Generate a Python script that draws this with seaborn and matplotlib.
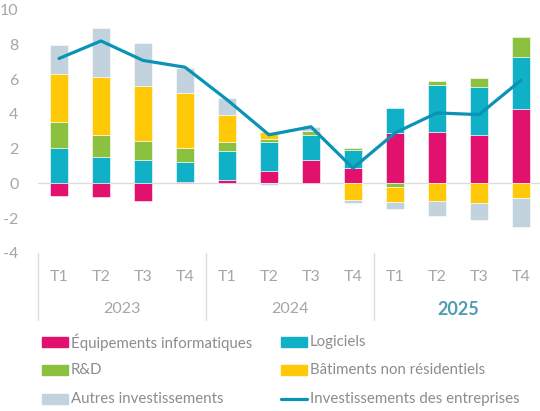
import numpy as np
import pandas as pd
import matplotlib
matplotlib.use("Agg")
import matplotlib.pyplot as plt
from matplotlib.patches import Rectangle
from matplotlib.lines import Line2D
import seaborn as sns

# Contributions à la croissance de l'investissement des entreprises (points)
trimestres = ["T1", "T2", "T3", "T4"] * 3
annees = ["2023", "2024", "2025"]

equipements = [-0.73, -0.77, -1.00, 0.07, 0.17, 0.73, 1.33, 0.87, 2.87, 2.97, 2.79, 4.25]
logiciels = [2.02, 1.50, 1.36, 1.18, 1.66, 1.62, 1.42, 1.07, 1.48, 2.67, 2.74, 3.01]
r_et_d = [1.51, 1.29, 1.09, 0.77, 0.52, 0.17, 0.27, 0.10, -0.19, 0.27, 0.52, 1.16]
batiments = [2.73, 3.30, 3.13, 3.16, 1.56, 0.43, 0.00, -0.97, -0.87, -1.04, -1.16, -0.87]
autres = [1.68, 2.87, 2.47, 1.48, 0.98, -0.12, 0.23, -0.15, -0.44, -0.83, -0.96, -1.64]
total = [7.18, 8.19, 7.07, 6.68, 4.81, 2.79, 3.25, 0.87, 2.90, 4.05, 3.95, 5.93]

series = [
    ("Équipements informatiques", equipements, "#E2116E"),
    ("Logiciels", logiciels, "#10B1C6"),
    ("R&D", r_et_d, "#8BC13F"),
    ("Bâtiments non résidentiels", batiments, "#FFC908"),
    ("Autres investissements", autres, "#C3D3DD"),
]
couleur_ligne = "#0A93B7"
gris_texte = "#8C8C8C"
gris_ligne = "#DCDCDC"

sns.set_theme(style="white")
plt.rcParams["font.family"] = ["Lato", "DejaVu Sans"]

W, H = 540, 411
fig = plt.figure(figsize=(W / 100, H / 100), dpi=100)
ax_left, ax_right, ax_top, ax_bottom = 38, 542, 9.5, 252.8
ax = fig.add_axes([ax_left / W, 1 - ax_bottom / H,
                   (ax_right - ax_left) / W, (ax_bottom - ax_top) / H])

x = np.arange(len(trimestres))
pos_base = np.zeros(len(x))
neg_base = np.zeros(len(x))
for nom, vals, couleur in series:
    v = np.array(vals)
    bottom = np.where(v >= 0, pos_base, neg_base)
    df = pd.DataFrame({"x": x, "v": v})
    sns.barplot(data=df, x="x", y="v", bottom=bottom, color=couleur,
                saturation=1, width=0.41, edgecolor="white", linewidth=0.4,
                ax=ax, zorder=2)
    pos_base = pos_base + np.where(v >= 0, v, 0)
    neg_base = neg_base + np.where(v < 0, v, 0)

sns.lineplot(x=x, y=total, color=couleur_ligne, linewidth=2.3, ax=ax,
             zorder=3)

ax.axhline(0, color=gris_ligne, lw=1, zorder=1)
ax.set_xlim(-0.5, 11.5)
ax.set_ylim(-4, 10)
ax.set_yticks(np.arange(-4, 11, 2))
ax.set_yticklabels([str(t) for t in range(-4, 11, 2)])
ax.tick_params(axis="y", length=0, pad=14, labelsize=11.5, labelcolor="#A6A6A6")
ax.set_xticks([])
ax.set_xlabel("")
ax.set_ylabel("")
for s in ax.spines.values():
    s.set_visible(False)

# axe des catégories à deux niveaux
tr = ax.get_xaxis_transform()
h_ax = ax_bottom - ax_top
y_trim = -(277 - ax_bottom) / h_ax
y_annee = -(309 - ax_bottom) / h_ax
y_sep = -(320 - ax_bottom) / h_ax
for i, t in enumerate(trimestres):
    ax.text(i, y_trim, t, transform=tr, ha="center", va="center",
            fontsize=11.5, color="#A6A6A6")
for k, an in enumerate(annees):
    xc = 4 * k + 1.5
    if an == "2025":
        ax.text(xc, y_annee, an, transform=tr, ha="center", va="center",
                fontsize=13, fontweight="bold", color="#4E9CB0")
    else:
        ax.text(xc, y_annee, an, transform=tr, ha="center", va="center",
                fontsize=11.5, color="#A6A6A6")
for xs in [-0.5, 3.5, 7.5]:
    ax.plot([xs, xs], [0, y_sep], transform=tr, color=gris_ligne, lw=1,
            clip_on=False)

# légende
def fx(px):
    return px / W

def fy(py):
    return 1 - py / H

entrees = [
    (series[0], 42, 342), (series[1], 281, 342),
    (series[2], 42, 370), (series[3], 281, 370),
    (series[4], 42, 399),
]
for (nom, _, couleur), px, py in entrees:
    fig.patches.append(Rectangle((fx(px), fy(py + 5)), fx(26), 10 / H,
                                 transform=fig.transFigure, color=couleur))
    fig.text(fx(px + 29), fy(py), nom, ha="left", va="center",
             fontsize=10.8, color=gris_texte)
fig.add_artist(Line2D([fx(281), fx(307)], [fy(399), fy(399)],
                      color=couleur_ligne, lw=2.3, transform=fig.transFigure))
fig.text(fx(310), fy(399), "Investissements des entreprises", ha="left",
         va="center", fontsize=10.8, color=gris_texte)

fig.savefig("out.png", dpi=100)
